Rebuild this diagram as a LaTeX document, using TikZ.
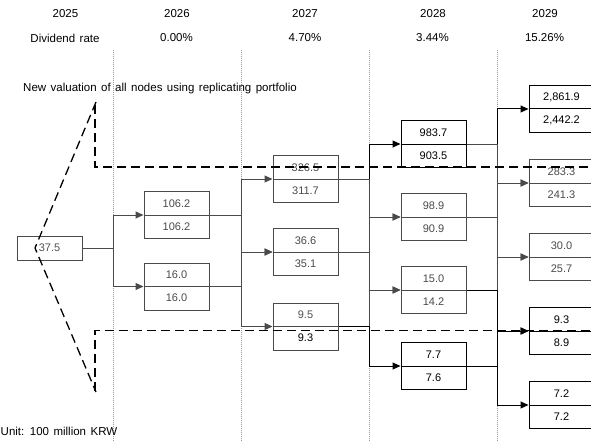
\documentclass[tikz,border=0pt]{standalone}
\usepackage{fontspec}
\setmainfont{Liberation Sans}[WordSpace=1.4]
\usetikzlibrary{arrows.meta}
\definecolor{ink}{HTML}{4A4A4A}
\definecolor{txtgray}{HTML}{505050}
\definecolor{dotgray}{HTML}{9A9A9A}
\newcommand{\splitbox}[6]{%
  \node[box, draw=#6] (#1) at (#2,#3) {};
  \draw[#6, line width=1pt] (#1.west) -- (#1.east);
  \node[vtxt, text=#6] (#1t) at ([yshift=11.5pt]#1.center) {#4};
  \node[vtxt, text=#6] (#1b) at ([yshift=-11.5pt]#1.center) {#5};
}
\begin{document}
\begin{tikzpicture}[x=1pt,y=-1pt,
  lbl/.style={font=\fontsize{11.5}{13}\selectfont, inner sep=0},
  vtxt/.style={font=\fontsize{11}{13}\selectfont, inner sep=0},
  box/.style={line width=1pt, minimum width=65pt, minimum height=47pt, inner sep=0, anchor=center},
  conn/.style={draw=ink, line width=1pt, -{Triangle[length=8pt,width=7pt]}},
  connk/.style={draw=black, line width=1pt, -{Triangle[length=8pt,width=7pt]}},
  dotline/.style={draw=dotgray, line width=0.6pt, dash pattern=on 1pt off 1pt},
  dashzoom/.style={draw=black, line width=1.3pt, dash pattern=on 9pt off 5pt}
]
\useasboundingbox (0,0) rectangle (591,441);
\clip (0,0) rectangle (591,441);

% header
\node[lbl] (y25) at (65.5,14) {2025};
\node[lbl] (y26) at (177,14) {2026};
\node[lbl] (y27) at (305,14) {2027};
\node[lbl] (y28) at (433,14) {2028};
\node[lbl] (y29) at (545,14) {2029};
\node[lbl] (d25) at (65,38) {Dividend rate};
\node[lbl] (d26) at (176.5,38) {0.00\%};
\node[lbl] (d27) at (305,38) {4.70\%};
\node[lbl] (d28) at (432.5,38) {3.44\%};
\node[lbl] (d29) at (544.5,38) {15.26\%};

% dotted column separators
\coordinate (b1) at (113.5,0);
\coordinate (b2) at (241,0);
\coordinate (b3) at (369,0);
\coordinate (b4) at (497,0);
\foreach \c in {b1,b2,b3,b4} \draw[dotline] (\c |- 0,50) -- (\c |- 0,441);

\node[lbl, anchor=center] (title) at (160,89) {New valuation of all nodes using replicating portfolio};
\node[lbl, anchor=west] (unit) at (0.5,431) {Unit: 100 million KRW};

% nodes
\node[box, minimum height=24pt, draw=ink] (n0) at (49.5,248) {};
\node[vtxt, text=txtgray] (n0t) at (n0.center) {37.5};

\splitbox{a1}{176.5}{215}{106.2}{106.2}{ink}
\splitbox{a2}{176.5}{286.5}{16.0}{16.0}{ink}

\splitbox{c1}{305.5}{179}{326.5}{311.7}{ink}
\splitbox{c2}{305.5}{252}{36.6}{35.1}{ink}
\node[box, draw=ink] (c3) at (305.5,326.5) {};
\draw[ink, line width=1pt] (c3.west) -- (c3.east);
\node[vtxt, text=txtgray] (c3t) at ([yshift=11.5pt]c3.center) {9.5};
\node[vtxt, text=black] (c3b) at ([yshift=-11.5pt]c3.center) {9.3};

\splitbox{e1}{433.5}{144}{983.7}{903.5}{black}
\splitbox{e2}{433.5}{217}{98.9}{90.9}{ink}
\splitbox{e3}{433.5}{290}{15.0}{14.2}{ink}
\splitbox{e4}{433.5}{366}{7.7}{7.6}{black}

\splitbox{f1}{561.5}{109}{2,861.9}{2,442.2}{black}
\splitbox{f2}{561.5}{183}{283.3}{241.3}{ink}
\splitbox{f3}{561.5}{257}{30.0}{25.7}{ink}
\splitbox{f4}{561.5}{331}{9.3}{8.9}{black}
\splitbox{f5}{561.5}{405}{7.2}{7.2}{black}

% connectors
\draw[conn] (n0.east) -- (n0.east -| b1) |- (a1.west);
\draw[conn] (n0.east) -- (n0.east -| b1) |- (a2.west);

\draw[conn] (a1.east) -- (a1.east -| b2) |- (c1.west);
\draw[conn] (a1.east) -- (a1.east -| b2) |- (c2.west);
\draw[conn] (a2.east) -- (a2.east -| b2) |- (c2.west);
\draw[conn] (a2.east) -- (a2.east -| b2) |- (c3.west);

\draw[connk] (c1.east) -- (c1.east -| b3) |- (e1.west);
\draw[conn] (c1.east) -- (c1.east -| b3) |- (e2.west);
\draw[conn] (c2.east) -- (c2.east -| b3) |- (e2.west);
\draw[conn] (c2.east) -- (c2.east -| b3) |- (e3.west);
\draw[conn] (c3.east) -- (c3.east -| b3) |- (e3.west);
\draw[connk] (c3.east) -- (c3.east -| b3) |- (e4.west);

\draw[connk] (e1.east) -- (e1.east -| b4) |- (f1.west);
\draw[conn] (e1.east) -- (e1.east -| b4) |- (f2.west);
\draw[conn] (e2.east) -- (e2.east -| b4) |- (f2.west);
\draw[conn] (e2.east) -- (e2.east -| b4) |- (f3.west);
\draw[conn] (e3.east) -- (e3.east -| b4) |- (f3.west);
\draw[connk] (e3.east) -- (e3.east -| b4) |- (f4.west);
\draw[connk] (e4.east) -- (e4.east -| b4) |- (f4.west);
\draw[connk] (e4.east) -- (e4.east -| b4) |- (f5.west);

% dashed zoom outline
\coordinate (zt) at (96,102);
\coordinate (zl) at (35,248);
\coordinate (zb) at (96,392);
\coordinate (vt) at (95,105);
\coordinate (vb) at (95,391);
\coordinate (ht) at (591,167);
\coordinate (hb) at (591,330.5);
\draw[dashzoom] (zt) -- (zl) -- (zb);
\draw[dashzoom] (vt) |- (ht);
\draw[dashzoom] (vb) |- (hb);
\end{tikzpicture}
\end{document}
